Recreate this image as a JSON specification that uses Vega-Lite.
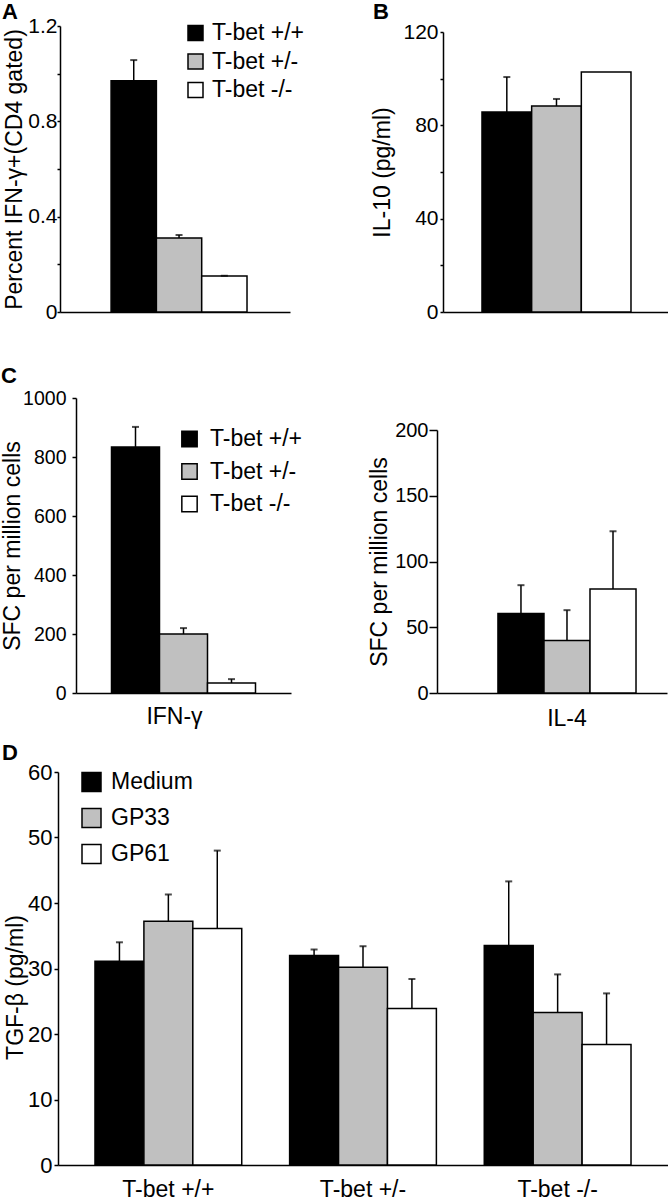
{
  "$schema": "https://vega.github.io/schema/vega-lite/v6.json",
  "padding": {"left": 1, "top": 1, "right": 0, "bottom": 0},
  "config": {
    "font": "Liberation Sans",
    "view": {"stroke": null},
    "axis": {"domainColor": "black", "domainWidth": 1.5, "tickColor": "black", "tickWidth": 1.5, "labelColor": "black", "titleColor": "black", "labelFontSize": 21, "titleFontSize": 23, "titleFontWeight": "normal", "grid": false, "labelFont": "Liberation Sans", "titleFont": "Liberation Sans"},
    "legend": {"labelFont": "Liberation Sans", "labelColor": "black", "labelFontSize": 23, "symbolType": "square", "symbolStrokeColor": "black", "symbolStrokeWidth": 1.5, "padding": 0, "title": null},
    "title": {"fontSize": 22, "fontWeight": "bold", "anchor": "start", "frame": "group", "font": "Liberation Sans", "color": "black"}
  },
  "datasets": {
    "panelA": [
      {"cat": "A", "group": "T-bet +/+", "value": 0.97, "upper": 1.057},
      {"cat": "A", "group": "T-bet +/-", "value": 0.31, "upper": 0.323},
      {"cat": "A", "group": "T-bet -/-", "value": 0.151, "upper": 0.152}
    ],
    "panelB": [
      {"cat": "B", "group": "T-bet +/+", "value": 85.7, "upper": 100.7},
      {"cat": "B", "group": "T-bet +/-", "value": 88.3, "upper": 91.3},
      {"cat": "B", "group": "T-bet -/-", "value": 102.9, "upper": null}
    ],
    "panelC1": [
      {"cat": "IFN-γ", "group": "T-bet +/+", "value": 834, "upper": 902},
      {"cat": "IFN-γ", "group": "T-bet +/-", "value": 200, "upper": 220},
      {"cat": "IFN-γ", "group": "T-bet -/-", "value": 34, "upper": 47}
    ],
    "panelC2": [
      {"cat": "IL-4", "group": "T-bet +/+", "value": 60.5, "upper": 82},
      {"cat": "IL-4", "group": "T-bet +/-", "value": 40, "upper": 63},
      {"cat": "IL-4", "group": "T-bet -/-", "value": 79, "upper": 123}
    ],
    "panelD": [
      {"geno": "T-bet +/+", "stim": "Medium", "value": 31.1, "upper": 34.0},
      {"geno": "T-bet +/+", "stim": "GP33", "value": 37.2, "upper": 41.3},
      {"geno": "T-bet +/+", "stim": "GP61", "value": 36.1, "upper": 48.0},
      {"geno": "T-bet +/-", "stim": "Medium", "value": 32.0, "upper": 32.9},
      {"geno": "T-bet +/-", "stim": "GP33", "value": 30.2, "upper": 33.4},
      {"geno": "T-bet +/-", "stim": "GP61", "value": 23.9, "upper": 28.4},
      {"geno": "T-bet -/-", "stim": "Medium", "value": 33.5, "upper": 43.3},
      {"geno": "T-bet -/-", "stim": "GP33", "value": 23.3, "upper": 29.1},
      {"geno": "T-bet -/-", "stim": "GP61", "value": 18.4, "upper": 26.2}
    ]
  },
  "bounds": "full",
  "spacing": 12,
  "resolve": {"scale": {"color": "independent", "x": "independent", "y": "independent", "xOffset": "independent"}, "legend": {"color": "independent"}},
  "vconcat": [
    {
      "bounds": "full",
      "spacing": 43,
      "resolve": {"scale": {"color": "independent", "x": "independent", "y": "independent", "xOffset": "independent"}, "legend": {"color": "independent"}},
      "vconcat": [
        {
          "hconcat": [
            {
              "width": 232, "height": 286,
              "title": {"text": "A", "dx": -56, "offset": -9},
              "data": {"name": "panelA"},
              "encoding": {
                "x": {"field": "cat", "type": "nominal", "scale": {"paddingInner": 0, "paddingOuter": 0.346, "align": 0.543, "rangeMin": 2}, "axis": {"labels": false, "ticks": false, "title": null}},
                "xOffset": {"field": "group", "type": "nominal", "sort": ["T-bet +/+", "T-bet +/-", "T-bet -/-"], "scale": {"paddingInner": 0, "paddingOuter": 0}}
              },
              "layer": [
                {"mark": {"type": "bar", "stroke": "black", "strokeWidth": 1.5},
                 "encoding": {
                   "y": {"field": "value", "type": "quantitative", "scale": {"domain": [0, 1.2], "nice": false}, "title": "Percent IFN-γ+(CD4 gated)",
                         "axis": {"values": [0, 0.2, 0.4, 0.6, 0.8, 1, 1.2], "format": "~g", "labelExpr": "(datum.value == 0 || datum.value == 0.4 || datum.value == 0.8 || datum.value == 1.2) ? datum.label : ''", "tickSize": 3, "labelPadding": 0, "titlePadding": 1, "offset": -2}},
                   "color": {"field": "group", "type": "nominal", "scale": {"domain": ["T-bet +/+", "T-bet +/-", "T-bet -/-"], "range": ["#000000", "#c0c0c0", "#ffffff"]},
                             "legend": {"orient": "none", "legendX": 126, "legendY": -4.5, "symbolSize": 225, "rowPadding": 4.5, "labelOffset": 5}}
                 }},
                {"mark": {"type": "rule", "color": "black", "strokeWidth": 1.5},
                 "encoding": {"y": {"field": "value", "type": "quantitative", "scale": {"domain": [0, 1.2], "nice": false}, "title": "Percent IFN-γ+(CD4 gated)"}, "y2": {"field": "upper"}}},
                {"mark": {"type": "tick", "color": "black", "thickness": 2, "size": 7},
                 "encoding": {"y": {"field": "upper", "type": "quantitative", "scale": {"domain": [0, 1.2], "nice": false}, "title": "Percent IFN-γ+(CD4 gated)"}}}
              ]
            },
            {
              "width": 225, "height": 286,
              "title": {"text": "B", "dx": -70, "offset": -3},
              "data": {"name": "panelB"},
              "encoding": {
                "x": {"field": "cat", "type": "nominal", "scale": {"paddingInner": 0, "paddingOuter": 0.255, "align": 0.513}, "axis": {"labels": false, "ticks": false, "title": null}},
                "xOffset": {"field": "group", "type": "nominal", "sort": ["T-bet +/+", "T-bet +/-", "T-bet -/-"], "scale": {"paddingInner": 0, "paddingOuter": 0}}
              },
              "layer": [
                {"mark": {"type": "bar", "stroke": "black", "strokeWidth": 1.5},
                 "encoding": {
                   "y": {"field": "value", "type": "quantitative", "scale": {"domain": [0, 120], "nice": false, "rangeMax": 6}, "title": "IL-10 (pg/ml)",
                         "axis": {"values": [0, 20, 40, 60, 80, 100, 120], "labelExpr": "(datum.value % 40 == 0) ? datum.label : ''", "tickSize": 3, "labelPadding": 2, "titlePadding": 8}},
                   "color": {"field": "group", "type": "nominal", "scale": {"domain": ["T-bet +/+", "T-bet +/-", "T-bet -/-"], "range": ["#000000", "#c0c0c0", "#ffffff"]}, "legend": null}
                 }},
                {"mark": {"type": "rule", "color": "black", "strokeWidth": 1.5},
                 "encoding": {"y": {"field": "value", "type": "quantitative", "scale": {"domain": [0, 120], "nice": false, "rangeMax": 6}, "title": "IL-10 (pg/ml)"}, "y2": {"field": "upper"}}},
                {"mark": {"type": "tick", "color": "black", "thickness": 2, "size": 7},
                 "encoding": {"y": {"field": "upper", "type": "quantitative", "scale": {"domain": [0, 120], "nice": false, "rangeMax": 6}, "title": "IL-10 (pg/ml)"}}}
              ]
            }
          ],
          "spacing": 153,
          "bounds": "flush",
          "resolve": {"scale": {"color": "independent", "x": "independent", "y": "independent", "xOffset": "independent"}, "legend": {"color": "independent"}}
        },
        {
          "hconcat": [
            {
              "width": 233, "height": 295,
              "title": {"text": "C", "dx": -57, "offset": 0},
              "data": {"name": "panelC1"},
              "encoding": {
                "x": {"field": "cat", "type": "nominal", "scale": {"paddingInner": 0, "paddingOuter": 0.2465, "align": 0.5, "rangeMin": 18}, "axis": {"ticks": false, "title": null, "labelFontSize": 23, "labelPadding": 12, "labelOffset": -9, "labelAlign": "center", "labelAngle": 0}},
                "xOffset": {"field": "group", "type": "nominal", "sort": ["T-bet +/+", "T-bet +/-", "T-bet -/-"], "scale": {"paddingInner": 0, "paddingOuter": 0}}
              },
              "layer": [
                {"mark": {"type": "bar", "stroke": "black", "strokeWidth": 1.5},
                 "encoding": {
                   "y": {"field": "value", "type": "quantitative", "scale": {"domain": [0, 1000], "nice": false}, "title": "SFC per million cells",
                         "axis": {"values": [0, 200, 400, 600, 800, 1000], "format": "d", "tickSize": 4, "labelPadding": 6, "titlePadding": -2, "labelFontSize": 19.5, "offset": -18}},
                   "color": {"field": "group", "type": "nominal", "scale": {"domain": ["T-bet +/+", "T-bet +/-", "T-bet -/-"], "range": ["#000000", "#c0c0c0", "#ffffff"]},
                             "legend": {"orient": "none", "legendX": 120, "legendY": 29.5, "symbolSize": 235, "rowPadding": 8.5, "labelOffset": 9}}
                 }},
                {"mark": {"type": "rule", "color": "black", "strokeWidth": 1.5},
                 "encoding": {"y": {"field": "value", "type": "quantitative", "scale": {"domain": [0, 1000], "nice": false}, "title": "SFC per million cells"}, "y2": {"field": "upper"}}},
                {"mark": {"type": "tick", "color": "black", "thickness": 2, "size": 7},
                 "encoding": {"y": {"field": "upper", "type": "quantitative", "scale": {"domain": [0, 1000], "nice": false}, "title": "SFC per million cells"}}}
              ]
            },
            {
              "width": 230, "height": 295,
              "data": {"name": "panelC2"},
              "encoding": {
                "x": {"field": "cat", "type": "nominal", "scale": {"paddingInner": 0, "paddingOuter": 0.333, "align": 0.663}, "axis": {"ticks": false, "title": null, "labelFontSize": 23, "labelPadding": 14, "labelAlign": "center", "labelAngle": 0}},
                "xOffset": {"field": "group", "type": "nominal", "sort": ["T-bet +/+", "T-bet +/-", "T-bet -/-"], "scale": {"paddingInner": 0, "paddingOuter": 0}}
              },
              "layer": [
                {"mark": {"type": "bar", "stroke": "black", "strokeWidth": 1.5},
                 "encoding": {
                   "y": {"field": "value", "type": "quantitative", "scale": {"domain": [0, 200], "nice": false, "rangeMax": 32}, "title": "SFC per million cells",
                         "axis": {"values": [0, 50, 100, 150, 200], "tickSize": 8, "labelPadding": 1, "titlePadding": 3, "labelFontSize": 20}},
                   "color": {"field": "group", "type": "nominal", "scale": {"domain": ["T-bet +/+", "T-bet +/-", "T-bet -/-"], "range": ["#000000", "#c0c0c0", "#ffffff"]}, "legend": null}
                 }},
                {"mark": {"type": "rule", "color": "black", "strokeWidth": 1.5},
                 "encoding": {"y": {"field": "value", "type": "quantitative", "scale": {"domain": [0, 200], "nice": false, "rangeMax": 32}, "title": "SFC per million cells"}, "y2": {"field": "upper"}}},
                {"mark": {"type": "tick", "color": "black", "thickness": 2, "size": 7},
                 "encoding": {"y": {"field": "upper", "type": "quantitative", "scale": {"domain": [0, 200], "nice": false, "rangeMax": 32}, "title": "SFC per million cells"}}}
              ]
            }
          ],
          "spacing": 146,
          "bounds": "flush",
          "resolve": {"scale": {"color": "independent", "x": "independent", "y": "independent", "xOffset": "independent"}, "legend": {"color": "independent"}}
        }
      ]
    },
    {
      "width": 610, "height": 393,
      "title": {"text": "D", "dx": -56, "offset": -4},
      "data": {"name": "panelD"},
      "encoding": {
        "x": {"field": "geno", "type": "nominal", "sort": ["T-bet +/+", "T-bet +/-", "T-bet -/-"], "scale": {"paddingInner": 0.246, "paddingOuter": 0.19}, "axis": {"ticks": false, "title": null, "labelFontSize": 23, "labelPadding": 13, "labelAngle": 0}},
        "xOffset": {"field": "stim", "type": "nominal", "sort": ["Medium", "GP33", "GP61"], "scale": {"paddingInner": 0, "paddingOuter": 0}}
      },
      "layer": [
        {"mark": {"type": "bar", "stroke": "black", "strokeWidth": 1.5},
         "encoding": {
           "y": {"field": "value", "type": "quantitative", "scale": {"domain": [0, 60], "nice": false}, "title": "TGF-β (pg/ml)",
                 "axis": {"values": [0, 10, 20, 30, 40, 50, 60], "tickSize": 4, "labelPadding": 2, "titlePadding": 0, "titleY": 215, "labelFontSize": 22}},
           "color": {"field": "stim", "type": "nominal", "scale": {"domain": ["Medium", "GP33", "GP61"], "range": ["#000000", "#c0c0c0", "#ffffff"]},
                     "legend": {"orient": "none", "legendX": 22, "legendY": -1.5, "symbolSize": 361, "rowPadding": 11, "labelOffset": 8}}
         }},
        {"mark": {"type": "rule", "color": "black", "strokeWidth": 1.5},
         "encoding": {"y": {"field": "value", "type": "quantitative", "scale": {"domain": [0, 60], "nice": false}, "title": "TGF-β (pg/ml)"}, "y2": {"field": "upper"}}},
        {"mark": {"type": "tick", "color": "black", "thickness": 2, "size": 7},
         "encoding": {"y": {"field": "upper", "type": "quantitative", "scale": {"domain": [0, 60], "nice": false}, "title": "TGF-β (pg/ml)"}}}
      ]
    }
  ]
}
